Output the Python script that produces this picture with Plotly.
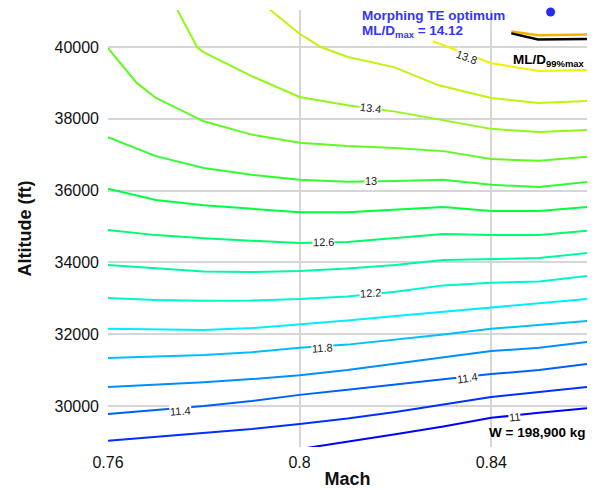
"""
ML/D contour map over Mach and altitude, morphing trailing edge case.
Contour lines are traced per level and drawn as plain line traces.
"""

import plotly.graph_objects as go
from plotly.colors import sample_colorscale

MACH_GRID = [0.76, 0.77, 0.78, 0.79, 0.80, 0.81, 0.82, 0.83, 0.84, 0.85, 0.86]

LEVELS = [11.0, 11.2, 11.4, 11.6, 11.8, 12.0, 12.2, 12.4, 12.6, 12.8, 13.0, 13.2, 13.4, 13.6, 13.8]

# altitude (ft) of each contour level along MACH_GRID
ALT_11_2 = [29030, 29140, 29250, 29360, 29500, 29650, 29830, 30030, 30250, 30390, 30530]
ALT_11_4 = [29780, 29890, 30000, 30140, 30310, 30450, 30590, 30740, 30890, 31000, 31170]
ALT_11_6 = [30530, 30590, 30660, 30750, 30860, 31000, 31170, 31350, 31530, 31620, 31780]
ALT_11_8 = [31340, 31370, 31420, 31500, 31620, 31710, 31840, 31990, 32150, 32260, 32370]
ALT_12_0 = [32150, 32130, 32120, 32170, 32270, 32380, 32510, 32620, 32730, 32860, 32980]
ALT_12_2 = [33010, 32950, 32930, 32940, 32980, 33050, 33180, 33360, 33430, 33470, 33620]
ALT_12_4 = [33930, 33830, 33750, 33730, 33760, 33830, 33930, 34070, 34100, 34120, 34260]
ALT_12_6 = [34900, 34760, 34670, 34600, 34540, 34570, 34680, 34790, 34760, 34760, 34880]
ALT_12_8 = [36050, 35740, 35590, 35490, 35400, 35400, 35460, 35540, 35430, 35430, 35540]
ALT_13_0 = [37490, 36960, 36630, 36440, 36300, 36250, 36270, 36300, 36160, 36100, 36240]

# levels that do not span the whole Mach range
MACH_11_0 = [0.799, 0.81, 0.82, 0.83, 0.84, 0.85, 0.86]
ALT_11_0 = [28780, 29000, 29210, 29430, 29670, 29810, 29940]
MACH_13_2 = [0.76, 0.766, 0.77, 0.78, 0.79, 0.80, 0.81, 0.82, 0.83, 0.84, 0.85, 0.86]
ALT_13_2 = [39970, 39000, 38580, 37930, 37560, 37330, 37240, 37190, 37100, 36880, 36830, 36940]
MACH_13_4 = [0.7734, 0.7786, 0.7799, 0.79, 0.80, 0.81, 0.82, 0.83, 0.84, 0.85, 0.86]
ALT_13_4 = [41300, 40000, 39860, 39190, 38610, 38380, 38200, 37950, 37720, 37630, 37690]
MACH_13_6 = [0.7914, 0.7998, 0.8044, 0.8101, 0.8197, 0.8253, 0.8289, 0.84, 0.8498, 0.8603]
ALT_13_6 = [41300, 40390, 40000, 39720, 39440, 39140, 38940, 38580, 38440, 38500]
MACH_13_8 = [0.8278, 0.84, 0.85, 0.86]
ALT_13_8 = [40160, 39550, 39330, 39360]

# key lines in the top right corner
MACH_KEY = [0.8442, 0.8498, 0.8603]
ALT_MORPH_KEY = [40430, 40330, 40350]
ALT_99_KEY = [40380, 40210, 40220]
OPT_MACH = [0.8524]
OPT_ALT = [40975]

# inline contour labels: text, mach, altitude, angle
LABEL_TEXT = ["11", "11.4", "11.4", "11.8", "12.2", "12.6", "13", "13.4", "13.8"]
LABEL_MACH = [0.8448, 0.7751, 0.8350, 0.8048, 0.8149, 0.8050, 0.8149, 0.8149, 0.8348]
LABEL_ALT = [29694, 29861, 30780, 31616, 33148, 34568, 36267, 38301, 39721]
LABEL_ANGLE = [-6, -4, -8, -4, -4, -1, 0, 7, 20]

FONT = "Liberation Sans, Arial, Helvetica, sans-serif"
SCALE = [[0.0, "#0000ff"], [0.36, "#00f0ff"], [0.64, "#00ff40"], [1.0, "#f0f000"]]

curves = [
    (MACH_11_0, ALT_11_0),
    (MACH_GRID, ALT_11_2),
    (MACH_GRID, ALT_11_4),
    (MACH_GRID, ALT_11_6),
    (MACH_GRID, ALT_11_8),
    (MACH_GRID, ALT_12_0),
    (MACH_GRID, ALT_12_2),
    (MACH_GRID, ALT_12_4),
    (MACH_GRID, ALT_12_6),
    (MACH_GRID, ALT_12_8),
    (MACH_GRID, ALT_13_0),
    (MACH_13_2, ALT_13_2),
    (MACH_13_4, ALT_13_4),
    (MACH_13_6, ALT_13_6),
    (MACH_13_8, ALT_13_8),
]
colors = sample_colorscale(SCALE, [i / (len(LEVELS) - 1) for i in range(len(LEVELS))])

fig = go.Figure()
for lvl, (mx, alt), col in zip(LEVELS, curves, colors):
    fig.add_trace(go.Scatter(
        x=mx, y=alt, mode="lines", name=str(lvl),
        line=dict(color=col, width=2), hoverinfo="skip",
    ))

fig.add_trace(go.Scatter(x=MACH_KEY, y=ALT_MORPH_KEY, mode="lines",
                         line=dict(color="#f2b200", width=2.5)))
fig.add_trace(go.Scatter(x=MACH_KEY, y=ALT_99_KEY, mode="lines",
                         line=dict(color="#000000", width=2.5)))
fig.add_trace(go.Scatter(x=OPT_MACH, y=OPT_ALT, mode="markers", cliponaxis=False,
                         marker=dict(color="#2b2bef", size=9)))

for txt, mx, alt, ang in zip(LABEL_TEXT, LABEL_MACH, LABEL_ALT, LABEL_ANGLE):
    fig.add_annotation(x=mx, y=alt, text=txt, showarrow=False, textangle=ang,
                       font=dict(size=11, color="#222222", family=FONT),
                       bgcolor="white", borderpad=0)

bold = dict(family=FONT, size=13.5)
fig.add_annotation(xref="paper", yref="paper", x=0.526, y=0.988, text="<b>Morphing TE optimum</b>",
                   showarrow=False, xanchor="left", yanchor="middle",
                   font=dict(bold, color="#3535f5"))
fig.add_annotation(xref="paper", yref="paper", x=0.526, y=0.950,
                   text="<b>ML/D<sub>max</sub> = 14.12</b>",
                   showarrow=False, xanchor="left", yanchor="middle",
                   font=dict(bold, color="#3535f5"))
fig.add_annotation(xref="paper", yref="paper", x=1.0, y=0.885,
                   text="<b>ML/D<sub>99%max</sub></b>",
                   showarrow=False, xanchor="right", yanchor="middle",
                   font=dict(bold, color="black"))
fig.add_annotation(xref="paper", yref="paper", x=1.0, y=0.034,
                   text="<b>W = 198,900 kg</b>",
                   showarrow=False, xanchor="right", yanchor="middle",
                   font=dict(bold, color="black"))

fig.update_layout(
    width=597, height=490,
    margin=dict(l=108, r=10, t=10, b=43),
    paper_bgcolor="white", plot_bgcolor="white",
    showlegend=False,
    font=dict(family=FONT, size=16, color="#111111"),
    xaxis=dict(
        range=[0.76, 0.86], tickvals=[0.76, 0.8, 0.84], ticktext=["0.76", "0.8", "0.84"],
        showgrid=True, gridcolor="#d6d6d6", gridwidth=1.5, zeroline=False, showline=False,
        ticks="", ticklabelstandoff=4, automargin=False,
        title=dict(text="<b>Mach</b>", font=dict(size=18), standoff=2),
    ),
    yaxis=dict(
        range=[28858, 41031], tickvals=[30000, 32000, 34000, 36000, 38000, 40000],
        tickformat="d",
        showgrid=True, gridcolor="#d6d6d6", gridwidth=1.5, zeroline=False, showline=False,
        ticks="", ticklabelstandoff=8, automargin=False,
        title=dict(text="<b>Altitude (ft)</b>", font=dict(size=18), standoff=18),
    ),
)

fig.write_html("out.html", config={"displayModeBar": False},
               post_script="document.body.style.margin='0';")
